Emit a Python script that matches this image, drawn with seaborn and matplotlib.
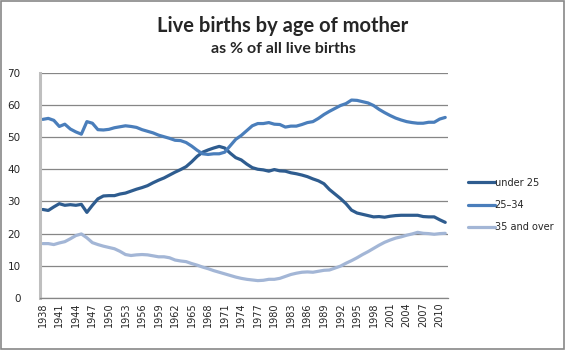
import matplotlib.pyplot as plt
import seaborn as sns
import numpy as np
import pandas as pd
from matplotlib.patches import Rectangle
from matplotlib.ticker import MultipleLocator, FixedLocator

years = list(range(1938, 2012))

under_25 = [27.5, 27.2, 28.3, 29.3, 28.8, 29.0, 28.8, 29.1, 26.6, 28.8,
            30.8, 31.7, 31.8, 31.8, 32.3, 32.6, 33.2, 33.8, 34.3, 34.9,
            35.8, 36.6, 37.3, 38.2, 39.1, 39.9, 40.8, 42.3, 44.0, 45.3,
            46.0, 46.6, 47.1, 46.6, 45.0, 43.6, 42.9, 41.6, 40.5, 40.0,
            39.8, 39.4, 39.9, 39.5, 39.4, 38.9, 38.6, 38.2, 37.7, 37.0,
            36.4, 35.5, 33.7, 32.3, 30.9, 29.3, 27.3, 26.4, 26.0, 25.6,
            25.2, 25.3, 25.1, 25.4, 25.6, 25.7, 25.7, 25.7, 25.7, 25.3,
            25.2, 25.2, 24.3, 23.5]

age_25_34 = [55.5, 55.8, 55.2, 53.3, 54.0, 52.5, 51.6, 50.9, 54.8, 54.3,
             52.3, 52.2, 52.4, 52.9, 53.2, 53.5, 53.3, 53.0, 52.3, 51.8,
             51.3, 50.6, 50.1, 49.6, 49.0, 48.9, 48.3, 47.2, 45.9, 44.8,
             44.6, 44.8, 44.8, 45.3, 47.3, 49.3, 50.5, 52.0, 53.5, 54.2,
             54.2, 54.5, 54.0, 53.9, 53.1, 53.4, 53.4, 53.9, 54.5, 54.8,
             55.8, 57.0, 58.0, 58.9, 59.8, 60.4, 61.5, 61.4, 61.0, 60.6,
             59.8, 58.6, 57.6, 56.7, 55.9, 55.3, 54.8, 54.5, 54.3, 54.3,
             54.6, 54.6, 55.6, 56.1]

age_35_over = [16.9, 16.9, 16.6, 17.1, 17.5, 18.4, 19.4, 19.9, 18.7, 17.2,
               16.6, 16.1, 15.7, 15.3, 14.5, 13.5, 13.2, 13.4, 13.5, 13.4,
               13.1, 12.8, 12.8, 12.5, 11.8, 11.5, 11.3, 10.7, 10.2, 9.6,
               9.1, 8.5, 8.0, 7.5, 7.0, 6.5, 6.1, 5.8, 5.6, 5.4,
               5.5, 5.8, 5.8, 6.1, 6.7, 7.3, 7.7, 8.0, 8.1, 8.0,
               8.3, 8.6, 8.7, 9.3, 9.9, 10.8, 11.6, 12.5, 13.5, 14.4,
               15.4, 16.4, 17.3, 18.0, 18.6, 19.0, 19.5, 19.9, 20.4, 20.1,
               20.0, 19.8, 20.0, 20.1]

series_names = ['under 25', '25\u201334', '35 and over']
colors = ['#2E5C8F', '#4A7EBB', '#A3B6D6']

df = pd.DataFrame({'year': years, series_names[0]: under_25,
                   series_names[1]: age_25_34, series_names[2]: age_35_over})
long = df.melt(id_vars='year', var_name='group', value_name='pct')

sns.set_style('white')
plt.rcParams['font.family'] = ['DejaVu Sans']

fig = plt.figure(figsize=(5.66, 3.5), dpi=100)
ax = fig.add_axes([0.0707, 0.1486, 0.7208, 0.6437])

sns.lineplot(data=long, x='year', y='pct', hue='group', hue_order=series_names,
             palette=colors, linewidth=2.3, ax=ax, legend=True)

ax.set_xlim(1937.5, 2011.5)
ax.set_ylim(0, 70)
ax.yaxis.set_major_locator(MultipleLocator(10))
ax.grid(axis='y', color='#868686', linewidth=0.9)
ax.set_axisbelow(True)
for s in ['top', 'right']:
    ax.spines[s].set_visible(False)
ax.spines['left'].set_color('#BFBFBF')
ax.spines['left'].set_linewidth(2.2)
ax.spines['bottom'].set_color('#868686')
ax.spines['bottom'].set_linewidth(0.9)

ax.set_xticks(years[::3])
ax.set_xticklabels([str(y) for y in years[::3]], rotation=90, fontsize=7)
ax.xaxis.set_minor_locator(FixedLocator(np.arange(1937.5, 2012, 1)))
ax.tick_params(axis='x', which='major', length=0, pad=3)
ax.tick_params(axis='x', which='minor', length=4, width=0.8, color='#868686', direction='out')
ax.tick_params(axis='y', length=0, labelsize=7.5, pad=14)
ax.set_xlabel('')
ax.set_ylabel('')

leg = ax.legend(title=None, frameon=False, loc='upper left',
                bbox_to_anchor=(0.812, 0.517), bbox_transform=fig.transFigure,
                fontsize=7, handlelength=2.7, handletextpad=0.0,
                labelspacing=1.25, borderpad=0.4)
for line in leg.get_lines():
    line.set_linewidth(2.3)

fig.text(0.5, 1 - 26 / 350, 'Live births by age of mother', ha='center', va='center',
         fontsize=14.5, fontweight='bold', family=['Lato', 'DejaVu Sans'])
fig.text(0.5, 1 - 49 / 350, 'as % of all live births', ha='center', va='center',
         fontsize=11.5, fontweight='bold', family=['Lato', 'DejaVu Sans'])

fig.patches.append(Rectangle((0.002, 0.003), 0.995, 0.994, transform=fig.transFigure,
                             fill=False, edgecolor='#888888', linewidth=1.2))

fig.savefig('out.png', dpi=100)
